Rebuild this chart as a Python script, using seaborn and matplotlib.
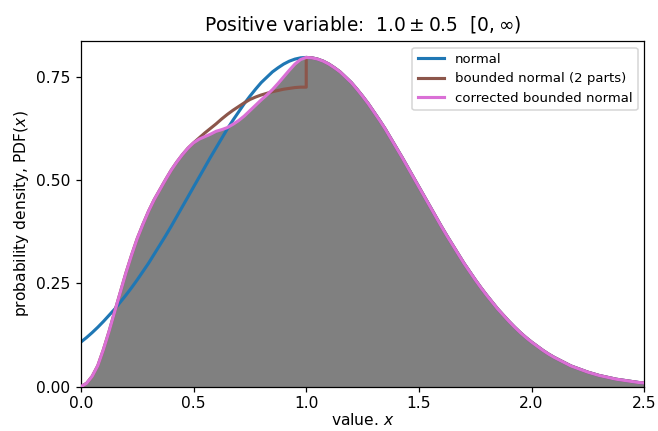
import numpy as np
import pandas as pd
import matplotlib
matplotlib.use("Agg")
import matplotlib.pyplot as plt
import seaborn as sns

# grid of x values (step 0.025) on which the densities are tabulated
x_all = [round(0.025 * i, 3) for i in range(101)]
x_left = x_all[:41]    # 0.0 .. 1.0
x_right = x_all[40:]   # 1.0 .. 2.5

# normal density, mean 1.0, sigma 0.5
normal_pdf = [0.108, 0.119, 0.131, 0.144, 0.158, 0.173, 0.188, 0.205, 0.222, 0.240,
              0.259, 0.279, 0.299, 0.321, 0.343, 0.365, 0.388, 0.412, 0.436, 0.460,
              0.484, 0.508, 0.532, 0.556, 0.579, 0.602, 0.625, 0.646, 0.666, 0.686,
              0.704, 0.721, 0.737, 0.750, 0.763, 0.773, 0.782, 0.789, 0.794, 0.797,
              0.798,
              0.797, 0.794, 0.789, 0.782, 0.773, 0.763, 0.750, 0.737, 0.721, 0.704,
              0.686, 0.666, 0.646, 0.625, 0.602, 0.579, 0.556, 0.532, 0.508, 0.484,
              0.460, 0.436, 0.412, 0.388, 0.365, 0.343, 0.321, 0.299, 0.279, 0.259,
              0.240, 0.222, 0.205, 0.188, 0.173, 0.158, 0.144, 0.131, 0.119, 0.108,
              0.098, 0.088, 0.079, 0.071, 0.064, 0.057, 0.050, 0.045, 0.040, 0.035,
              0.031, 0.027, 0.024, 0.021, 0.018, 0.016, 0.014, 0.012, 0.010, 0.009]

# bounded normal, lower part (x <= 1)
bounded_left = [0.000, 0.008, 0.025, 0.051, 0.090, 0.134, 0.182, 0.229, 0.276, 0.319,
                0.359, 0.393, 0.425, 0.453, 0.477, 0.501, 0.524, 0.544, 0.562, 0.578,
                0.591, 0.603, 0.615, 0.626, 0.637, 0.649, 0.660, 0.670, 0.679, 0.688,
                0.696, 0.702, 0.707, 0.711, 0.715, 0.718, 0.721, 0.723, 0.725, 0.726,
                0.726]

# corrected bounded normal, lower part (x <= 1)
corrected_left = [0.000, 0.008, 0.025, 0.051, 0.090, 0.134, 0.182, 0.229, 0.276, 0.319,
                  0.359, 0.393, 0.425, 0.453, 0.477, 0.501, 0.524, 0.544, 0.562, 0.578,
                  0.591, 0.600, 0.606, 0.612, 0.619, 0.623, 0.628, 0.636, 0.645, 0.656,
                  0.669, 0.682, 0.695, 0.707, 0.720, 0.735, 0.751, 0.767, 0.782, 0.793,
                  0.798]

normal_right = normal_pdf[40:]

# two-part bounded normal: lower part, then the upper half of the normal
bounded_x = x_left + x_right
bounded_y = bounded_left + normal_right
# corrected version joins the upper half without a step
corrected_x = x_left + x_right[1:]
corrected_y = corrected_left + normal_right[1:]

df_normal = pd.DataFrame({"x": x_all, "pdf": normal_pdf})
df_bounded = pd.DataFrame({"x": bounded_x, "pdf": bounded_y})
df_corrected = pd.DataFrame({"x": corrected_x, "pdf": corrected_y})

fig = plt.figure(figsize=(658 / 112, 431 / 112), dpi=112)
ax = fig.add_axes([0.123, 0.103, 0.856, 0.802])

ax.fill_between(df_corrected["x"], df_corrected["pdf"], color="gray", lw=0, zorder=1)

sns.lineplot(data=df_normal, x="x", y="pdf", ax=ax, color="#1f77b4", lw=2,
             estimator=None, sort=False, label="normal", zorder=2)
sns.lineplot(data=df_bounded, x="x", y="pdf", ax=ax, color="#8c564b", lw=2,
             estimator=None, sort=False, label="bounded normal (2 parts)", zorder=3)
sns.lineplot(data=df_corrected, x="x", y="pdf", ax=ax, color="orchid", lw=2,
             estimator=None, sort=False, label="corrected bounded normal", zorder=4)

ax.set_xlim(0, 2.5)
ax.set_ylim(0, 0.838)
ax.set_xticks([0.0, 0.5, 1.0, 1.5, 2.0, 2.5])
ax.set_xticklabels(["0.0", "0.5", "1.0", "1.5", "2.0", "2.5"])
ax.set_yticks([0.0, 0.25, 0.5, 0.75])
ax.set_yticklabels(["0.00", "0.25", "0.50", "0.75"])
ax.tick_params(axis="x", pad=2.5)

ax.set_xlabel("value. $x$", labelpad=1)
ax.set_ylabel("probability density, PDF($x$)", labelpad=3)
ax.set_title(r"Positive variable:  $1.0 \pm 0.5$  $[0,\infty)$", fontsize=12, pad=7)
ax.legend(loc="upper right", fontsize=8.5)

fig.savefig("out.png", dpi=112)
